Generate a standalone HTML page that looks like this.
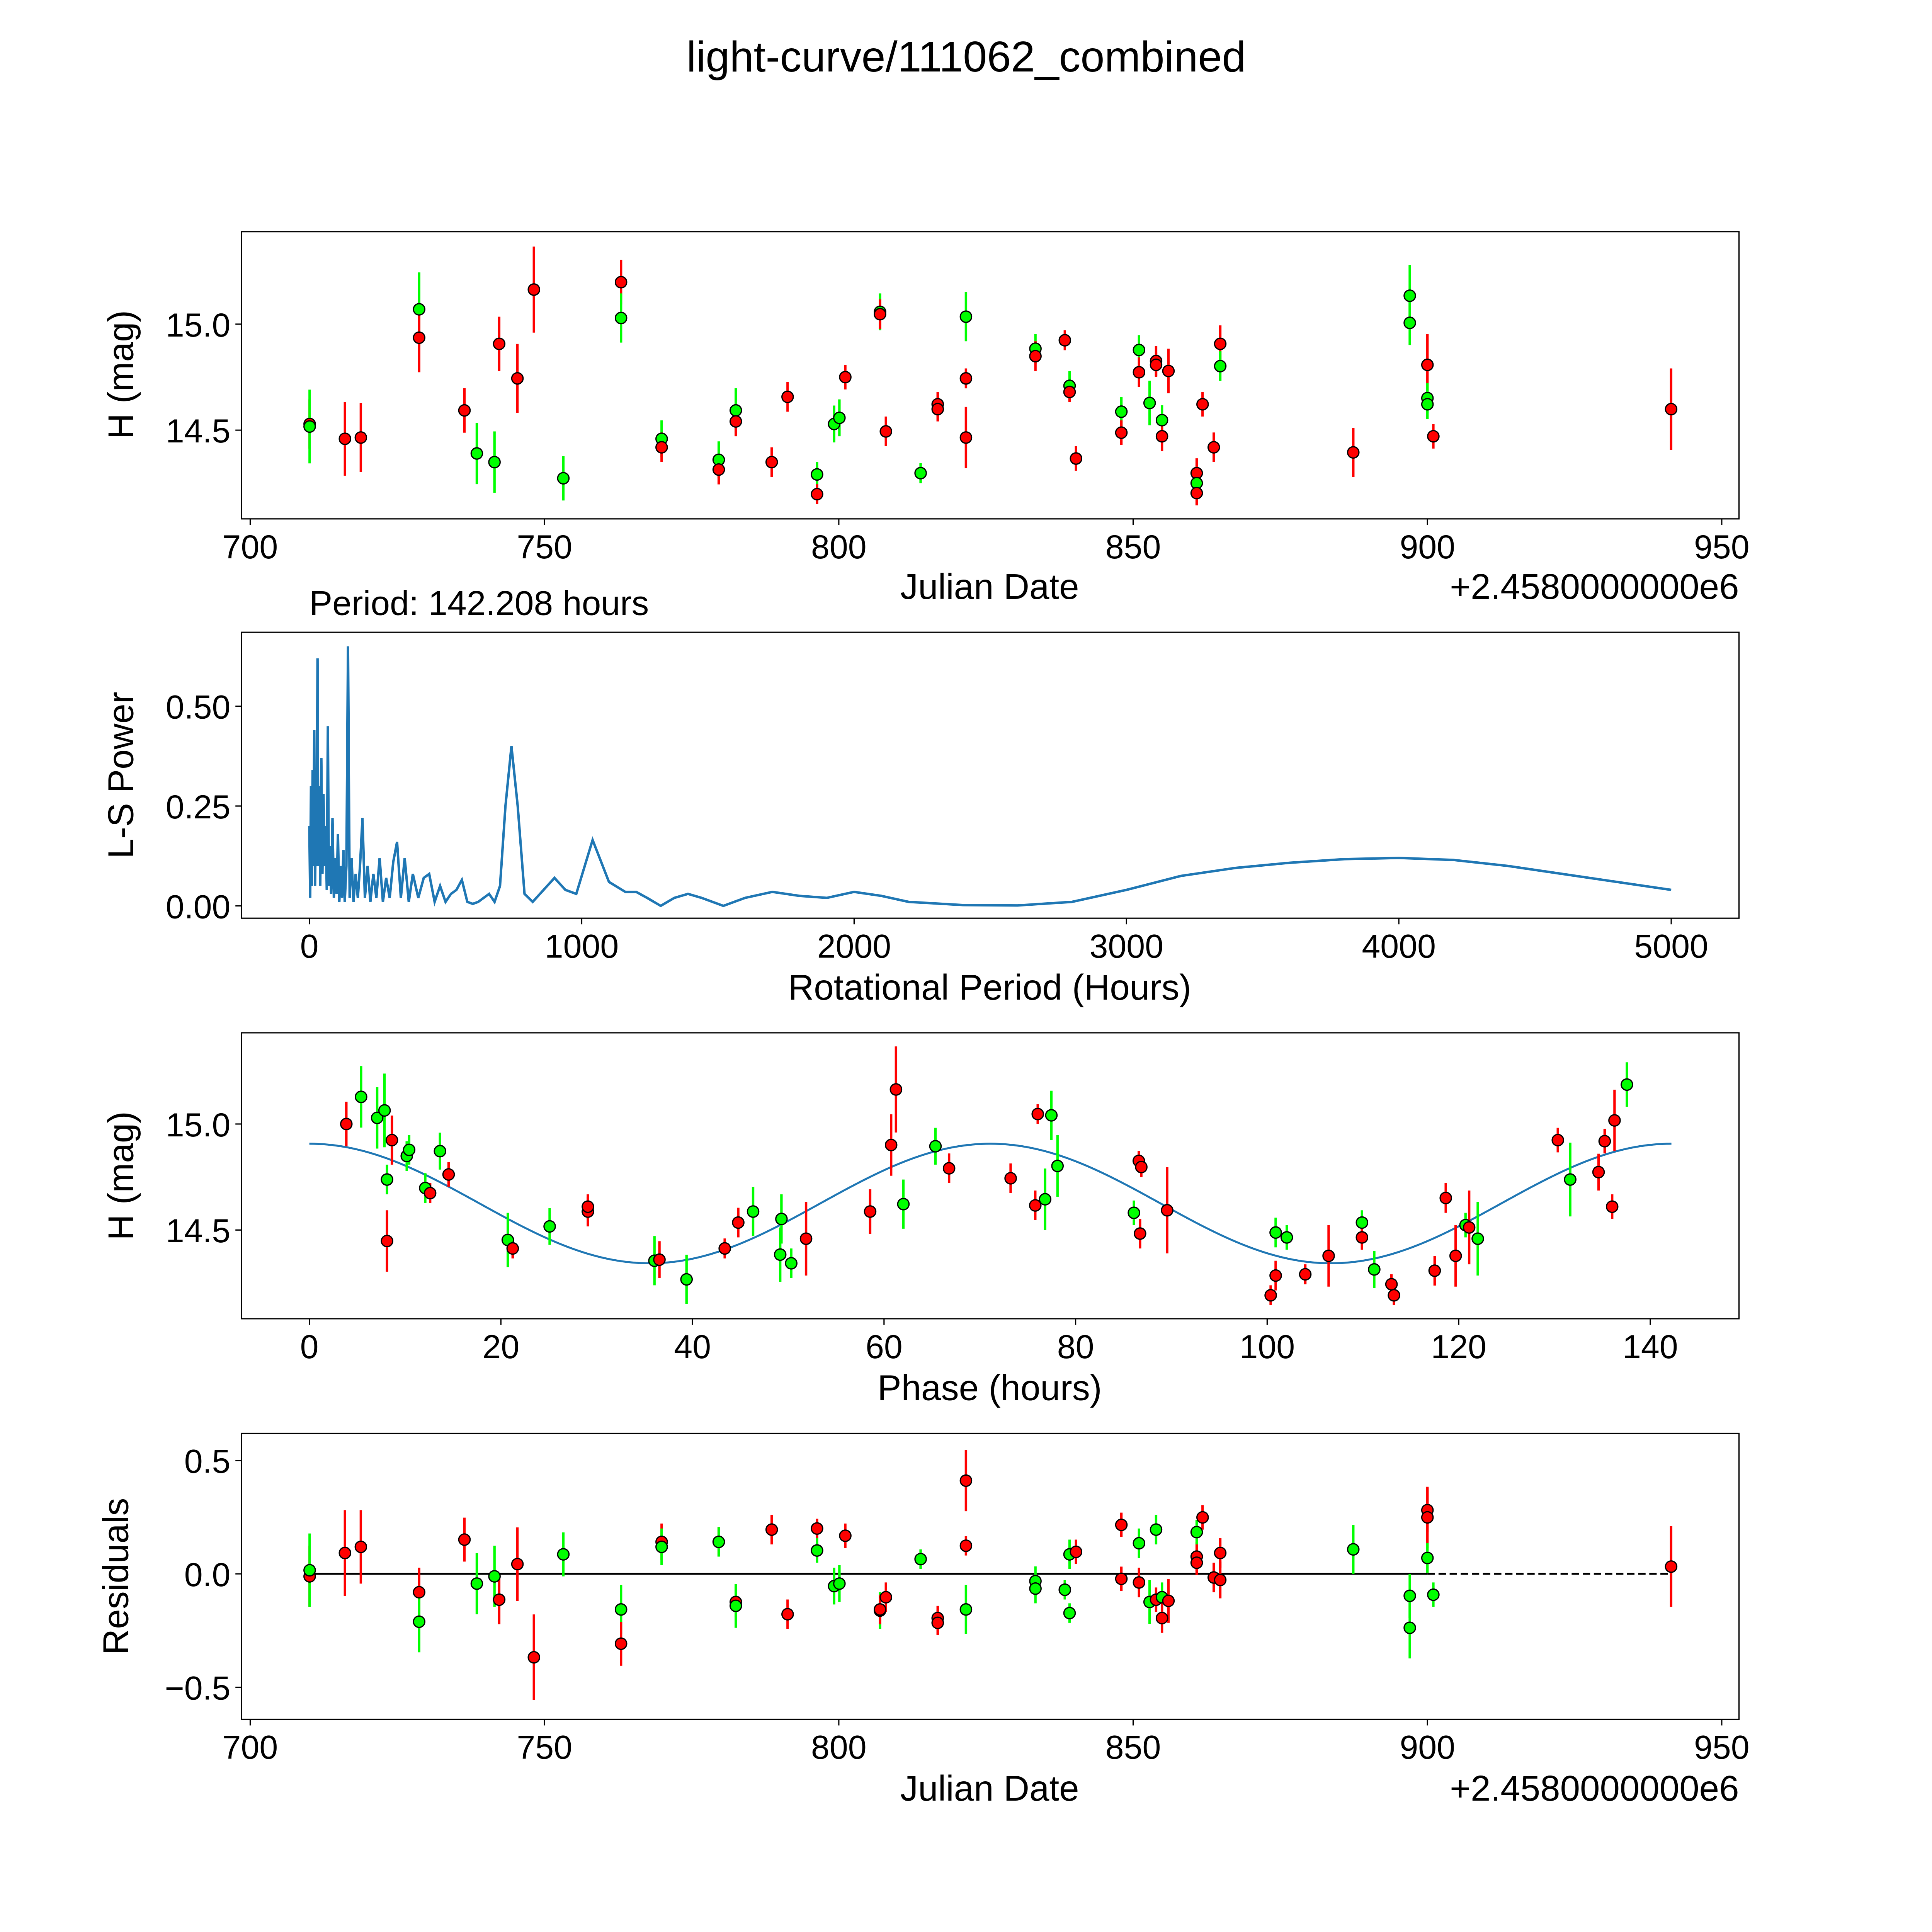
<!DOCTYPE html>
<html><head><meta charset="utf-8"><style>html,body{margin:0;padding:0;background:#fff;width:5400px;height:5400px;overflow:hidden}svg{display:block;position:absolute;left:0;top:0}text{font-family:"Liberation Sans","DejaVu Sans",sans-serif;fill:#000}</style></head>
<body>
<svg id="fig" xmlns="http://www.w3.org/2000/svg" width="5400" height="5400" viewBox="0 0 1693 1693">
<rect x="0" y="0" width="1693" height="1693" fill="#fff"/>
<text x="784" y="58" font-size="35" text-anchor="middle">light-curve/111062_combined</text>
<text x="251" y="499" font-size="28">Period: 142.208 hours</text>
</svg>
<script>
// ---- data ----
const lcJD=[710.1,710.1,716.1,718.8,728.7,728.7,736.4,738.5,741.5,742.3,745.4,748.2,753.2,763.0,763.0,769.9,769.9,779.6,779.6,782.5,782.5,788.6,791.3,796.3,796.3,799.2,800.1,801.1,807.0,807.0,808.0,813.9,816.8,816.8,821.6,821.6,821.6,833.4,833.4,838.4,839.2,839.2,840.3,848.0,848.0,851.0,851.0,852.8,853.9,853.9,854.9,854.9,856.0,860.8,860.8,860.8,861.8,863.7,864.8,864.8,887.4,897.0,897.0,900.0,900.0,900.0,901.0,941.4];
const lcMag=[14.529,14.517,14.459,14.465,15.070,14.936,14.593,14.390,14.349,14.907,14.744,15.163,14.273,15.198,15.029,14.459,14.419,14.360,14.314,14.593,14.541,14.349,14.657,14.291,14.198,14.529,14.558,14.750,15.058,15.047,14.494,14.297,14.622,14.599,15.035,14.744,14.465,14.884,14.849,14.924,14.709,14.680,14.366,14.587,14.488,14.878,14.773,14.628,14.826,14.808,14.547,14.471,14.779,14.297,14.250,14.203,14.622,14.419,14.907,14.802,14.395,15.134,15.006,14.808,14.651,14.622,14.471,14.599];
const lcErr=[.116,.174,.174,.163,.174,.163,.105,.145,.145,.128,.163,.203,.105,.105,.116,.087,.070,.087,.070,.105,.070,.070,.070,.058,.047,.087,.087,.058,.087,.070,.070,.047,.058,.058,.116,.047,.145,.070,.070,.047,.070,.047,.058,.070,.058,.070,.070,.105,.070,.058,.070,.070,.105,.070,.058,.058,.058,.070,.087,.070,.116,.145,.105,.145,.070,.070,.058,.192];
const lcCol="rgrrgrrggrrrgrggrgrgrrrgrggrgrrgrrgrrgrrgrrgrgrgrrgrrrgrrrrgrggrggrrr".split("");
const phX=[3.86,5.40,7.08,7.85,8.11,8.62,8.11,10.17,10.42,12.10,12.61,13.64,14.54,20.72,21.23,25.09,29.08,29.08,36.03,36.55,39.38,43.37,44.78,46.33,49.29,49.16,50.31,51.86,58.55,60.74,61.25,62.02,65.37,66.79,73.22,75.79,76.05,76.82,77.47,78.11,86.09,86.60,86.86,86.73,89.56,100.37,100.89,102.05,103.98,100.89,106.42,109.90,109.90,111.18,112.98,113.24,117.49,118.65,119.68,120.71,121.09,121.99,130.35,131.64,134.60,135.24,136.02,136.27,137.56];
const phMag=[15.000,15.128,15.029,15.064,14.738,14.924,14.448,14.849,14.878,14.698,14.674,14.872,14.762,14.453,14.413,14.517,14.587,14.610,14.355,14.360,14.267,14.413,14.535,14.587,14.552,14.384,14.343,14.459,14.587,14.901,15.163,14.622,14.895,14.791,14.744,14.616,15.047,14.645,15.041,14.802,14.581,14.826,14.797,14.483,14.593,14.192,14.285,14.465,14.291,14.488,14.378,14.535,14.465,14.314,14.244,14.192,14.308,14.651,14.378,14.523,14.512,14.459,14.924,14.738,14.773,14.919,14.610,15.017,15.186];
const phErr=[.105,.145,.145,.174,.070,.116,.145,.070,.070,.070,.047,.087,.058,.128,.047,.087,.070,.058,.116,.087,.116,.047,.070,.116,.116,.128,.070,.174,.105,.145,.203,.116,.087,.070,.070,.070,.047,.145,.116,.145,.058,.047,.047,.070,.203,.047,.070,.058,.047,.070,.145,.058,.058,.087,.047,.047,.070,.070,.145,.058,.174,.174,.058,.174,.087,.058,.058,.145,.105];
const phCol="rggggrrgggrgrgrgrrgrgrrggggrrrrggrrrrggggrrrrrrgrgrgrgrrrrrgrgrgrrrrgr".split("");
const resJD=[710.1,710.1,716.1,718.8,728.7,728.7,736.4,738.5,741.5,742.3,745.4,748.2,753.2,763.0,763.0,769.9,769.9,779.6,779.6,782.5,782.5,788.6,791.3,796.3,796.3,799.2,800.1,801.1,807.0,807.0,808.0,813.9,816.8,816.8,821.6,821.6,821.6,833.4,833.4,838.4,838.4,839.2,839.2,840.3,848.0,848.0,851.0,851.0,852.8,853.9,853.9,854.9,854.9,856.0,860.8,860.8,860.8,861.8,863.7,864.8,864.8,887.4,897.0,897.0,900.0,900.0,900.0,901.0,941.4];
const resVal=[-.011,.016,.092,.119,-.081,-.211,.151,-.043,-.011,-.114,.043,-.368,.086,-.157,-.308,.141,.119,.141,.141,-.124,-.141,.195,-.178,.2,.103,-.054,-.043,.168,-.162,-.157,-.103,.065,-.195,-.216,.411,.124,-.157,-.032,-.065,-.070,-.070,-.173,.086,.097,-.022,.216,.135,-.038,-.124,.195,-.114,-.103,-.195,-.119,.076,.049,.184,.249,-.016,.092,-.027,.108,-.238,-.097,.281,.249,.070,-.092,.032];
const resErr=[.135,.162,.189,.162,.108,.135,.097,.135,.135,.108,.162,.189,.097,.108,.097,.081,.081,.065,.065,.065,.097,.065,.065,.043,.054,.081,.081,.054,.081,.065,.065,.043,.054,.054,.135,.043,.108,.065,.065,.043,.043,.043,.065,.054,.054,.054,.065,.065,.097,.065,.054,.065,.065,.097,.065,.054,.054,.054,.065,.065,.081,.108,.135,.097,.097,.135,.065,.054,.178];
const resCol="rgrrrgrggrrrggrrgrgrgrrrgggrgrrgrrrrgggrgggrrrgrggrgrrrrgrrrrgggrrggrr".split("");
const lsPer=[0,3,6,9,12,15,18,21,24,27,30,33,36,40,44,48,52,56,60,64,68,72,76,80,85,90,95,100,105,110,115,120,125,130,136,142,148,155,162,170,178,186,195,204,214,224,235,246,258,270,282,295,308,322,336,350,365,380,400,420,440,460,480,500,520,540,560,580,600,620,640,660,680,700,720,742,765,790,820,860,900,940,980,1040,1100,1160,1200,1240,1290,1340,1390,1440,1520,1600,1700,1800,1900,2000,2100,2200,2400,2600,2800,3000,3200,3400,3600,3800,4000,4200,4400,4600,4800,5000];
const lsPow=[0.2,0.02,0.3,0.05,0.34,0.1,0.44,0.05,0.25,0.1,0.62,0.1,0.3,0.05,0.37,0.08,0.28,0.1,0.2,0.04,0.45,0.05,0.15,0.03,0.22,0.02,0.12,0.03,0.18,0.01,0.1,0.02,0.14,0.01,0.1,0.65,0.02,0.12,0.01,0.08,0.02,0.1,0.22,0.02,0.1,0.01,0.08,0.02,0.12,0.01,0.07,0.02,0.11,0.16,0.02,0.12,0.01,0.08,0.02,0.07,0.08,0.01,0.05,0.01,0.03,0.04,0.065,0.01,0.005,0.01,0.02,0.03,0.01,0.05,0.25,0.4,0.25,0.03,0.01,0.04,0.07,0.04,0.03,0.165,0.06,0.035,0.035,0.02,0.0,0.02,0.03,0.02,0.0,0.02,0.035,0.025,0.02,0.035,0.025,0.01,0.002,0.001,0.01,0.04,0.075,0.095,0.108,0.117,0.12,0.115,0.1,0.08,0.06,0.04];
const jdTicks=[700,750,800,850,900,950];
const magTicks=[15.0,14.5];
const lsXTicks=[0,1000,2000,3000,4000,5000];
const lsYTicks=[0,0.25,0.5];
const phTicks=[0,20,40,60,80,100,120,140];
const resTicks=[0.5,0,-0.5];
const period=142.208, fitMean=14.625, fitAmp=0.282;

const NS="http://www.w3.org/2000/svg";
const svg=document.getElementById('fig');
function mk(tag,attrs,parent){const e=document.createElementNS(NS,tag);for(const k in attrs)e.setAttribute(k,attrs[k]);(parent||svg).appendChild(e);return e;}
function lin(d0,d1,p0,p1){return v=>p0+(v-d0)*(p1-p0)/(d1-d0);}
function frame(name,x0,y0,x1,y1){const r=mk('rect',{x:x0,y:y0,width:x1-x0,height:y1-y0,fill:'none',stroke:'#000','stroke-width':1});

}
function xticks(g,vals,sx,yb,fmt){vals.forEach(v=>{const x=sx(v);mk('line',{x1:x,x2:x,y1:yb,y2:yb+5,stroke:'#000'},g);const t=mk('text',{x:x,y:yb+32,'font-size':27,'text-anchor':'middle'},g);t.textContent=fmt(v);

});}
function yticks(g,vals,sy,xl,fmt){vals.forEach(v=>{const y=sy(v);mk('line',{x1:xl-5,x2:xl,y1:y,y2:y,stroke:'#000'},g);const t=mk('text',{x:xl-9,y:y+10,'font-size':27,'text-anchor':'end'},g);t.textContent=fmt(v);

});}
function label(txt,x,y,rot,name){const t=mk('text',{x:x,y:y,'font-size':29,'text-anchor':'middle',transform:rot?`rotate(-90 ${x} ${y})`:''});t.textContent=txt;

}
function pts(g,xs,ys,es,cs,sx,sy){const C={r:'#ff0000',g:'#00ff00'};
xs.forEach((xv,i)=>{const x=sx(xv);const l=mk('line',{x1:x,x2:x,y1:sy(ys[i]-es[i]),y2:sy(ys[i]+es[i]),stroke:C[cs[i]]||'#ff0000','stroke-width':2},g);

});
xs.forEach((xv,i)=>{const c=mk('circle',{cx:sx(xv),cy:sy(ys[i]),r:4.6,fill:C[cs[i]]||'#ff0000',stroke:'#000','stroke-width':1},g);

});}
const fmt1=v=>v.toFixed(1), fmtM=v=>(v<0?'\u2212':'')+Math.abs(v).toFixed(1);

// Panel 1
const sx1=lin(700,950,203,1397), sy1=lin(15,14.5,263,349);
const g1=mk('g',{});
frame('light-curve-axes',196,188,1411,421);
xticks(g1,jdTicks,sx1,421,v=>String(v));yticks(g1,magTicks,sy1,196,fmt1);
pts(g1,lcJD,lcMag,lcErr,lcCol,sx1,sy1);
label('Julian Date',803,486,false,'x-axis-title');label('H (mag)',108,304,true,'y-axis-title');
let t=mk('text',{x:1411,y:486,'font-size':29,'text-anchor':'end'});t.textContent='+2.4580000000e6';



// Panel 2
const sx2=lin(0,5000,251,1356), sy2=lin(0,0.5,735,573);
const g2=mk('g',{});
frame('periodogram-axes',196,513,1411,745);
xticks(g2,lsXTicks,sx2,745,v=>String(v));yticks(g2,lsYTicks,sy2,196,v=>v.toFixed(2));
const pl=mk('polyline',{points:lsPer.map((p,i)=>sx2(p).toFixed(2)+','+sy2(lsPow[i]).toFixed(2)).join(' '),fill:'none',stroke:'#1f77b4','stroke-width':2},g2);


label('Rotational Period (Hours)',803,811,false,'x-axis-title');label('L-S Power',108,629,true,'y-axis-title');

// Panel 3
const sx3=lin(0,140,251,1339), sy3=lin(15,14.5,912,998);
const g3=mk('g',{});
frame('phase-axes',196,838,1411,1070);
xticks(g3,phTicks,sx3,1070,v=>String(v));yticks(g3,magTicks,sy3,196,fmt1);
const fitPts=[];for(let i=0;i<=300;i++){const p=period*i/300;fitPts.push(sx3(p).toFixed(2)+','+sy3(fitMean+fitAmp*Math.cos(4*Math.PI*p/period)).toFixed(2));}
const fl=mk('polyline',{points:fitPts.join(' '),fill:'none',stroke:'#1f77b4','stroke-width':1.6},g3);


pts(g3,phX,phMag,phErr,phCol,sx3,sy3);
label('Phase (hours)',803,1136,false,'x-axis-title');label('H (mag)',108,954,true,'y-axis-title');

// Panel 4
const sy4=lin(0,0.5,1277,1185);
const g4=mk('g',{});
frame('residuals-axes',196,1163,1411,1395);
xticks(g4,jdTicks,sx1,1395,v=>String(v));yticks(g4,resTicks,sy4,196,fmtM);
let z=mk('line',{x1:sx1(710.1),x2:sx1(900),y1:sy4(0),y2:sy4(0),stroke:'#000','stroke-width':1.5},g4);


z=mk('line',{x1:sx1(900),x2:sx1(941.4),y1:sy4(0),y2:sy4(0),stroke:'#000','stroke-width':1.5,'stroke-dasharray':'6 3'},g4);


pts(g4,resJD,resVal,resErr,resCol,sx1,sy4);
label('Julian Date',803,1461,false,'x-axis-title');label('Residuals',104,1279,true,'y-axis-title');
t=mk('text',{x:1411,y:1461,'font-size':29,'text-anchor':'end'});t.textContent='+2.4580000000e6';


</script>
</body></html>
